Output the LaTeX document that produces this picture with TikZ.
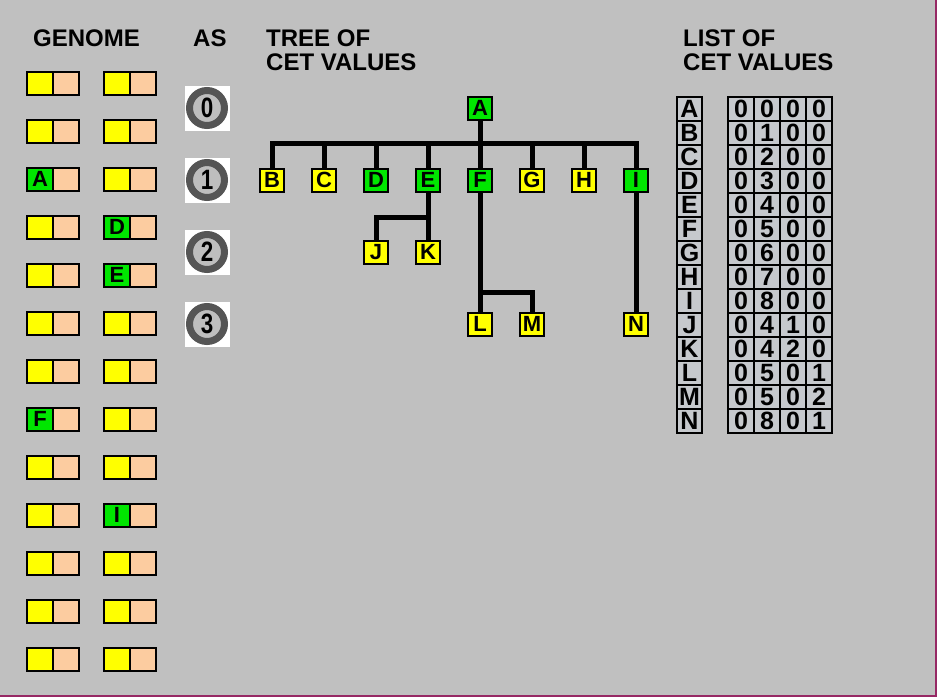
\documentclass[tikz,border=0pt]{standalone}
\usepackage{fontspec}
\setmainfont{Liberation Sans}[BoldFont={Liberation Sans Bold}]
\newfontfamily\narrowfont[FakeStretch=0.8, BoldFont={Liberation Sans Bold}]{Liberation Sans}
\usepackage{tikz}
\usetikzlibrary{positioning}
\usepackage{xcolor}
\definecolor{bggray}{RGB}{192,192,192}
\definecolor{cetgreen}{RGB}{0,230,0}
\definecolor{cetyellow}{RGB}{255,255,0}
\definecolor{peach}{RGB}{252,204,160}
\definecolor{ringgray}{RGB}{85,85,85}
\definecolor{innergray}{RGB}{190,190,190}
\definecolor{listgray}{RGB}{198,201,205}
\definecolor{edgepurple}{RGB}{150,40,100}

\begin{document}
\begin{tikzpicture}[
  x=1pt, y=-1pt,
  every node/.style={font=\bfseries\fontsize{24}{24}\selectfont, inner sep=0pt},
  head/.style={anchor=base west},
  gcell/.style={draw, line width=2pt, outer sep=0pt, minimum width=26pt, minimum height=23pt,
    font=\bfseries\fontsize{22}{22}\selectfont},
  tnode/.style={draw, line width=2pt, minimum width=24pt, minimum height=23pt,
    font=\bfseries\fontsize{22}{22}\selectfont},
  link/.style={line width=5pt},
  asbox/.style={fill=white, minimum size=45pt},
  asring/.style={circle, draw=ringgray, fill=innergray, line width=7pt, minimum size=35pt,
    font=\narrowfont\bfseries\fontsize{28}{28}\selectfont},
  lcell/.style={draw, line width=1.5pt, outer sep=0pt, fill=listgray, minimum width=26pt,
    minimum height=24pt, font=\bfseries\fontsize{25}{25}\selectfont}
]
\useasboundingbox (0,0) rectangle (937,697);
\fill[bggray] (0,0) rectangle (937,697);
\draw[edgepurple, line width=2pt] (936,0) -- (936,696) -- (0,696);

% headings
\node[head] (genome) at (33,46) {GENOME};
\node[head] (as) at (193,46) {AS};
\node[head] (tree1) at (266,46) {TREE OF};
\node[head] (tree2) at (266,70) {CET VALUES};
\node[head] (list1) at (683,46) {LIST OF};
\node[head] (list2) at (683,70) {CET VALUES};

% genome
\foreach \r in {0,...,12} {
  \foreach \c/\cx in {1/40, 2/117} {
    \node[gcell, fill=cetyellow] (g\c-\r) at (\cx, 83+48*\r) {};
    \node[gcell, fill=peach, right=0pt of g\c-\r] (p\c-\r) {};
  }
}
\foreach \c/\r/\t in {1/2/A, 2/3/D, 2/4/E, 1/7/F, 2/9/I}
  \node[gcell, fill=cetgreen] (gg\t) at (g\c-\r) {\t};

% AS levels
\foreach \i in {0,...,3} {
  \node[asbox] (as\i) at (207, 108+72*\i) {};
  \node[asring] (ring\i) at (as\i) {\i};
}

% tree
\node[tnode, fill=cetgreen] (A) at (480,108) {A};
\foreach \n/\k/\col in {B/0/cetyellow, C/1/cetyellow, D/2/cetgreen, E/3/cetgreen,
                        F/4/cetgreen, G/5/cetyellow, H/6/cetyellow, I/7/cetgreen}
  \node[tnode, fill=\col] (\n) at (272+52*\k, 180) {\n};
\node[tnode, fill=cetyellow] (J) at (376,252) {J};
\node[tnode, fill=cetyellow] (K) at (428,252) {K};
\node[tnode, fill=cetyellow] (L) at (480,324) {L};
\node[tnode, fill=cetyellow] (M) at (532,324) {M};
\node[tnode, fill=cetyellow] (N) at (636,324) {N};

\coordinate (bus) at (0,143);
\coordinate (ebus) at (0,217);
\coordinate (fbus) at (0,292);
\draw[link] (A) -- (A |- bus);
\draw[link] (B.north) -- (B |- bus) -- (I |- bus) -- (I.north);
\foreach \n in {C,...,H} \draw[link] (\n.north) -- (\n |- bus);
\draw[link] (E) -- (K);
\draw[link] (J.north) |- (E |- ebus);
\draw[link] (F) -- (L);
\draw[link] (M.north) |- (F |- fbus);
\draw[link] (I) -- (N);

% list
\foreach \t/\va/\vb/\vc/\vd [count=\i from 0] in {A/0/0/0/0, B/0/1/0/0, C/0/2/0/0,
    D/0/3/0/0, E/0/4/0/0, F/0/5/0/0, G/0/6/0/0, H/0/7/0/0, I/0/8/0/0,
    J/0/4/1/0, K/0/4/2/0, L/0/5/0/1, M/0/5/0/2, N/0/8/0/1} {
  \node[lcell, minimum width=25pt] (l\t) at (689.5, 109+24*\i) {\t};
  \node[lcell] (\t1) at (741, 109+24*\i) {\va};
  \node[lcell, right=0pt of \t1] (\t2) {\vb};
  \node[lcell, right=0pt of \t2] (\t3) {\vc};
  \node[lcell, right=0pt of \t3] (\t4) {\vd};
}
\end{tikzpicture}
\end{document}
